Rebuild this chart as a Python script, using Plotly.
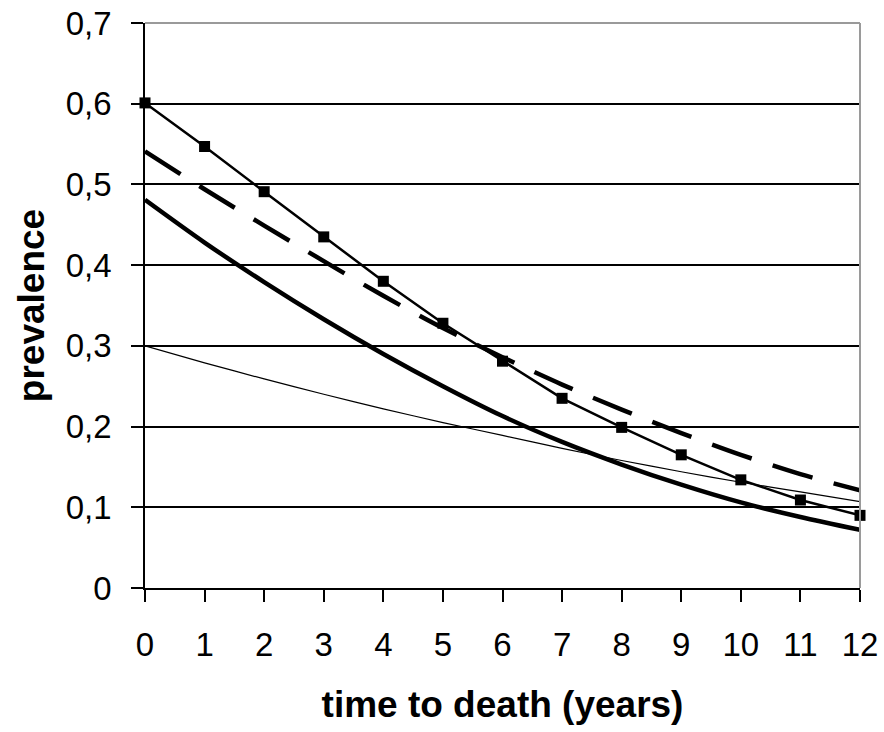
import plotly.graph_objects as go

years = list(range(13))
x_tick_labels = [str(v) for v in years]

# series with square markers
observed = [0.601, 0.547, 0.491, 0.435, 0.380, 0.328, 0.281, 0.235, 0.199, 0.165, 0.134, 0.109, 0.090]
# thick dashed curve
dashed_curve = [0.541, 0.494, 0.449, 0.405, 0.362, 0.322, 0.286, 0.252, 0.221, 0.192, 0.165, 0.141, 0.121]
# thick solid curve
thick_curve = [0.481, 0.428, 0.379, 0.333, 0.290, 0.250, 0.213, 0.181, 0.153, 0.128, 0.106, 0.088, 0.072]
# thin solid curve
thin_curve = [0.300, 0.279, 0.259, 0.240, 0.222, 0.205, 0.189, 0.173, 0.158, 0.144, 0.131, 0.119, 0.107]

y_ticks = [0, 0.1, 0.2, 0.3, 0.4, 0.5, 0.6, 0.7]

fig = go.Figure()
fig.add_trace(go.Scatter(x=years, y=thin_curve, mode="lines",
                         line=dict(color="black", width=1.2, shape="spline", smoothing=0.8),
                         showlegend=False))
fig.add_trace(go.Scatter(x=years, y=thick_curve, mode="lines",
                         line=dict(color="black", width=4.5, shape="spline", smoothing=0.8),
                         showlegend=False))
fig.add_trace(go.Scatter(x=years, y=dashed_curve, mode="lines",
                         line=dict(color="black", width=4.5, dash="42px,22px", shape="spline", smoothing=0.8),
                         showlegend=False))
fig.add_trace(go.Scatter(x=years, y=observed, mode="lines+markers",
                         line=dict(color="black", width=2.5),
                         marker=dict(symbol="square", size=11, color="black"),
                         showlegend=False, cliponaxis=False))

fig.update_layout(
    width=884, height=732,
    margin=dict(l=145, r=24, t=23, b=144, autoexpand=False),
    paper_bgcolor="white", plot_bgcolor="white",
    separators=",.",
    font=dict(family="Liberation Sans, Arial, sans-serif", size=33, color="black"),
    xaxis=dict(
        range=[0, 12], tickvals=years, ticktext=x_tick_labels,
        showgrid=False, zeroline=False, automargin=False,
        showline=True, linecolor="black", linewidth=1.5,
        ticks="outside", ticklen=12, tickcolor="black", tickwidth=1.5,
        ticklabelstandoff=15, ticklabeloverflow="allow",
        title=dict(text="<b>time to death (years)</b>", standoff=29,
                   font=dict(size=37)),
    ),
    yaxis=dict(
        range=[0, 0.7], tickvals=y_ticks,
        showgrid=True, gridcolor="black", gridwidth=1.5,
        zeroline=False, automargin=False,
        showline=True, linecolor="black", linewidth=1.5,
        ticks="outside", ticklen=12, tickcolor="black", tickwidth=1.5,
        ticklabelstandoff=13, ticklabeloverflow="allow",
        title=dict(text="<b>prevalence</b>", standoff=10,
                   font=dict(size=37)),
    ),
    shapes=[
        dict(type="line", xref="paper", yref="paper", x0=0, x1=1, y0=1, y1=1,
             line=dict(color="#9a9a9a", width=2), layer="above"),
        dict(type="line", xref="paper", yref="paper", x0=1, x1=1, y0=0, y1=1,
             line=dict(color="#9a9a9a", width=2), layer="above"),
    ],
)

fig.write_html("out.html",
               config={"displayModeBar": False},
               post_script="document.body.style.margin='0';document.body.style.overflow='hidden';")
